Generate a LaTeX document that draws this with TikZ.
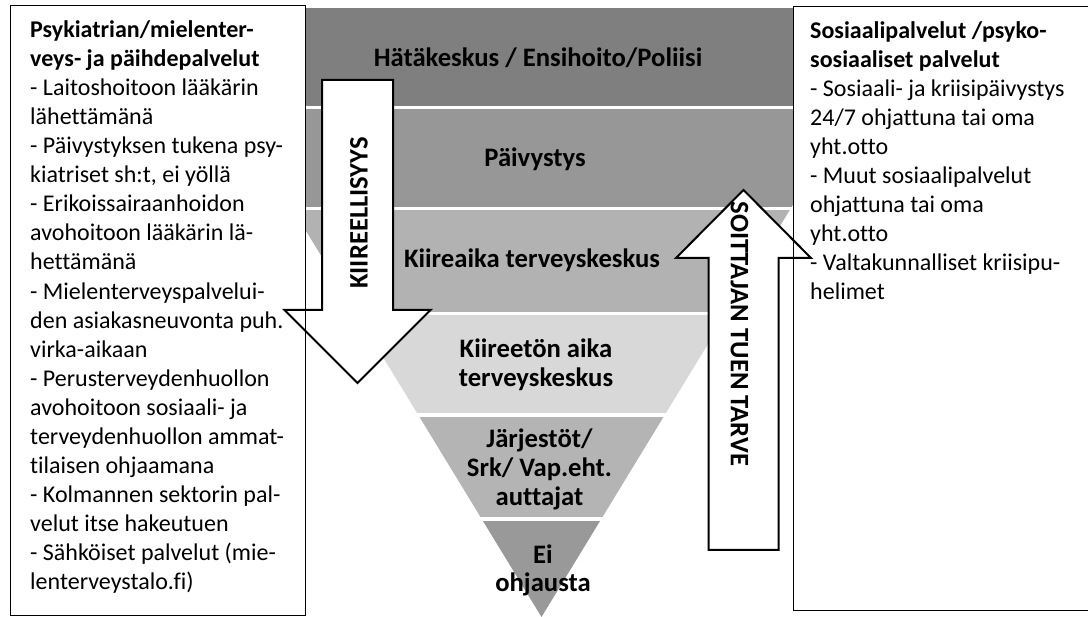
\documentclass[tikz,border=0pt]{standalone}
\usepackage{fontspec}
\setmainfont[Ligatures=NoCommon]{Carlito}
\definecolor{bandA}{HTML}{7F7F7F}
\definecolor{bandB}{HTML}{979797}
\definecolor{bandC}{HTML}{B2B2B2}
\definecolor{bandD}{HTML}{D8D8D8}
\definecolor{bandE}{HTML}{B4B4B4}
\definecolor{bandF}{HTML}{999999}
\begin{document}
\begin{tikzpicture}[x=1pt,y=-1pt,
  boxtext/.style={anchor=base west, align=left, inner sep=0pt, font=\fontsize{24}{29.1}\selectfont},
  bandlabel/.style={anchor=base, align=center, inner sep=0pt, font=\bfseries\fontsize{26.67}{29}\selectfont},
  arrowlabel/.style={inner sep=0pt, font=\bfseries\fontsize{26.67}{30}\selectfont},
  arrowshape/.style={draw=black, fill=white, line width=2pt, line join=miter},
  boxframe/.style={draw=black, line width=1pt}]
\useasboundingbox (0,0) rectangle (1088,617);
% funnel
\begin{scope}
  \clip (170,8) -- (913,8) -- (541.5,617) -- cycle;
  \fill[bandA] (0,8) rectangle (1088,106);
  \fill[bandB] (0,109) rectangle (1088,207);
  \fill[bandC] (0,210) rectangle (1088,312);
  \fill[bandD] (0,315) rectangle (1088,413);
  \fill[bandE] (0,417) rectangle (1088,517);
  \fill[bandF] (0,521) rectangle (1088,617);
\end{scope}
% side boxes (white background)
\fill[white] (10,6) rectangle (305,615);
\fill[white] (793,7) rectangle (1090,610);
% arrows
\draw[arrowshape] (322,80) -- (393,80) -- (393,310) -- (430.5,310) -- (357.5,383)
   -- (284.5,310) -- (322,310) -- cycle;
\draw[arrowshape] (708.5,550) -- (708.5,258) -- (676,258) -- (743.5,190) -- (811,258)
   -- (778.5,258) -- (778.5,550) -- cycle;
% box frames
\draw[boxframe] (10,6) rectangle (305,615);
\draw[boxframe] (1090,7) -- (793,7) -- (793,610) -- (1090,610);
% band labels (anchor base = baseline of last line)
\node[bandlabel] (b1) at (538,67) {Hätäkeskus / Ensihoito/Poliisi};
\node[bandlabel] (b2) at (535,167) {Päivystys};
\node[bandlabel] (b3) at (532,268) {Kiireaika terveyskeskus};
\node[bandlabel] (b4) at (536,387) {Kiireetön aika\\terveyskeskus};
\node[bandlabel] (b5) at (539.5,506) {Järjestöt/\\Srk/ Vap.eht.\\auttajat};
\node[bandlabel, font=\bfseries\fontsize{26.67}{28}\selectfont] (b6) at (543,591) {Ei\\ohjausta};
% arrow labels
\node[arrowlabel, rotate=90] (kl) at (359,213) {KIIREELLISYYS};
\node[arrowlabel, rotate=-90] (st) at (739.5,334) {SOITTAJAN TUEN TARVE};
% box texts (anchor base = baseline of last line)
\node[boxtext] (lt) at (30,590) {\textbf{Psykiatrian/mielenter-}\\
\textbf{veys- ja päihdepalvelut}\\
- Laitoshoitoon lääkärin\\
lähettämänä\\
- Päivystyksen tukena psy-\\
kiatriset sh:t, ei yöllä\\
- Erikoissairaanhoidon\\
avohoitoon lääkärin lä-\\
hettämänä\\
- Mielenterveyspalvelui-\\
den asiakasneuvonta puh.\\
virka-aikaan\\
- Perusterveydenhuollon\\
avohoitoon sosiaali- ja\\
terveydenhuollon ammat-\\
tilaisen ohjaamana\\
- Kolmannen sektorin pal-\\
velut itse hakeutuen\\
- Sähköiset palvelut (mie-\\
lenterveystalo.fi)};
\node[boxtext] (rt) at (810,300) {\textbf{Sosiaalipalvelut /psyko-}\\
\textbf{sosiaaliset palvelut}\\
- Sosiaali- ja kriisipäivystys\\
24/7 ohjattuna tai oma\\
yht.otto\\
- Muut sosiaalipalvelut\\
ohjattuna tai oma\\
yht.otto\\
- Valtakunnalliset kriisipu-\\
helimet};
\end{tikzpicture}
\end{document}
